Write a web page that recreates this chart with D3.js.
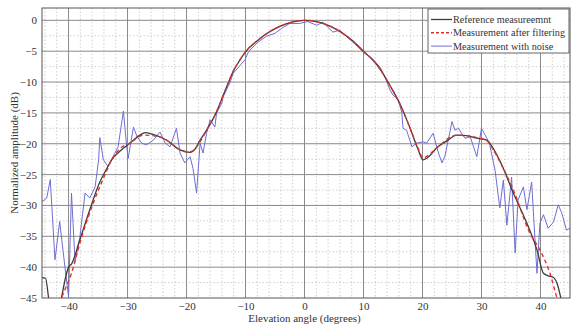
<!DOCTYPE html>
<html><head><meta charset="utf-8">
<script src="https://cdn.jsdelivr.net/npm/d3@7"></script>
<style>
html,body{margin:0;padding:0;background:#fff;}
text{font-family:"Liberation Serif","Times New Roman",serif;}
</style>
</head><body>
<svg id="chart" width="573" height="329"></svg>
<script>
// ---- data ----
const xTicks = [-40,-30,-20,-10,0,10,20,30,40];
const yTicks = [0,-5,-10,-15,-20,-25,-30,-35,-40,-45];
const seriesNames = ["Reference measureemnt","Measurement after filtering","Measurement with noise"];

const refAngle = [-44.5,-43.9,-43.3,-42.5,-41.5,-41.2,-40,-39.5,-38.1,-36.4,-34.7,-33.5,-32.7,-31.4,-29.6,-27.9,-27,-25.7,-23.4,-21.1,-19.4,-18.5,-17.7,-16.6,-15,-13.8,-13,-12,-11,-10,-8,-6,-4,-2,0,2,4,6,8,10,12,12.8,14.5,16.2,17.9,19.2,20.1,20.8,22.6,24.2,25.8,27.5,29.2,30.9,32,33.7,35.4,37.7,39.4,40.5,41.3,42.1,42.8,43.6,44.5];
const refValue = [-41.7,-41.8,-45.5,-48,-46.5,-45,-40,-39.5,-35.6,-30.7,-26.2,-24,-22.6,-21.3,-19.9,-18.6,-18.2,-18.5,-19.4,-21,-21.4,-20.8,-19.4,-17.8,-15.0,-12.2,-10.3,-8.1,-6.5,-5.1,-3.3,-1.9,-0.9,-0.25,0,-0.2,-0.8,-1.8,-3.2,-5.0,-6.9,-7.9,-10.6,-13.6,-17.5,-20.8,-22.6,-22.3,-20.5,-19.5,-18.6,-18.7,-19.1,-19.4,-20.8,-24,-28,-32.9,-37.2,-41,-41.4,-41.6,-42.6,-45.5,-48];

const filtAngle = [-42.3,-41.2,-39.5,-37.8,-35.8,-33.5,-33,-31.4,-29.6,-27.3,-24.5,-22.5,-21.1,-19.4,-17.7,-16.6,-15,-13.8,-13,-12,-11,-10,-8,-6,-4,-2,0,2,4,6,8,10,12,12.8,14.5,16.2,17.9,19.2,20.1,20.8,22.6,25.8,29.2,30.9,32,33.7,35.4,38.2,39.9,41.6,42.8,43.5];
const filtValue = [-48,-45,-41,-35.2,-29.6,-24.3,-23.2,-20.9,-19.9,-18.6,-18.9,-20.0,-21,-21.3,-19.7,-17.8,-15.0,-12.2,-10.3,-8.1,-6.5,-5.1,-3.3,-1.9,-0.9,-0.25,0,-0.2,-0.8,-1.8,-3.2,-5.0,-6.9,-7.9,-10.6,-13.6,-17.5,-20.6,-22.3,-22.0,-20.5,-18.6,-19.0,-19.5,-21,-24,-27.5,-34.5,-37.2,-41,-45,-47];

const noiseAngle = [-44.5,-43.7,-43.1,-42.3,-41.5,-40.6,-40,-39.5,-38.9,-38.1,-37.2,-36.4,-35.5,-34.9,-34.7,-34.1,-33.3,-31.6,-30.7,-30.2,-29.9,-29,-28.4,-27.6,-26.8,-25.6,-24.5,-23.6,-22.8,-21.7,-21.1,-20.3,-19.4,-18.9,-18.3,-17.7,-17.2,-16.6,-16,-15.2,-14.9,-14,-13.8,-12.6,-12.1,-10.1,-9.5,-8,-6.5,-5,-3.9,-2.5,-0.8,0.5,2.1,3.1,4.8,6,7.2,8.5,10,11.5,12.8,13.6,14.5,15,15.9,16.5,16.7,17.3,18.2,19,20.1,20.7,21.8,22.7,23.3,23.8,25,25.5,26.1,26.6,27.2,28.1,29.2,30,30.9,31.4,32.3,33.1,33.7,34.3,35.1,35.7,36.2,37.1,37.7,38.5,39.4,39.9,40.5,41.3,42.2,43,43.6,44.4,45];
const noiseValue = [-29.4,-28.8,-25.8,-38.8,-32.6,-40.1,-44.8,-28,-39.1,-35.3,-28,-28.8,-27,-22.6,-19,-22.6,-23.7,-20.5,-14.7,-19.9,-22.4,-17.3,-18.8,-19.9,-20.2,-19.4,-18.1,-19.9,-20.5,-17.5,-21.5,-23.1,-22.1,-24,-28,-19.9,-21.5,-18.3,-16.1,-17.3,-15,-13.4,-12.4,-10,-8.6,-6.4,-5.1,-3.6,-2.6,-2.1,-1.3,-0.5,-0.5,-0.2,-0.8,-0.3,-1.9,-1.6,-2.7,-3.8,-5.2,-6.2,-7.6,-9.1,-11.3,-12.1,-12.9,-15,-17.5,-17.8,-20.5,-19.9,-19.7,-19.9,-18.3,-21.5,-23.1,-22,-16.4,-17.8,-17.5,-18.3,-19.1,-18.9,-22.1,-17.5,-19.1,-20.2,-24.3,-30.4,-25.9,-33.2,-25.4,-37.7,-29.1,-27,-30.7,-26.2,-41,-32.9,-31.5,-33.7,-32.7,-29.9,-31.2,-34,-33.7];

// ---- layout ----
const svg = d3.select("#chart");
const L = 42, R = 570, T = 8, B = 298;
const x = d3.scaleLinear().domain([-44.5, 45]).range([L, R]);
const y = d3.scaleLinear().domain([-45, 2]).range([B, T]);

svg.append("rect").attr("x",0).attr("y",0).attr("width",573).attr("height",329).attr("fill","#fff");

// minor grid
const xMinor = d3.range(-44, 45, 2).filter(v => v % 10 !== 0);
const yMinor = d3.range(-42.5, 2, 5);
const g = svg.append("g");
g.selectAll(".xm").data(xMinor).join("line")
  .attr("x1", d => x(d)).attr("x2", d => x(d)).attr("y1", T).attr("y2", B)
  .attr("stroke", "#c4c4c4").attr("stroke-width", 0.8).attr("stroke-dasharray", "1.5,2");
g.selectAll(".ym").data(yMinor).join("line")
  .attr("y1", d => y(d)).attr("y2", d => y(d)).attr("x1", L).attr("x2", R)
  .attr("stroke", "#c4c4c4").attr("stroke-width", 0.8).attr("stroke-dasharray", "1.5,2");
// major grid
g.selectAll(".xM").data(xTicks).join("line")
  .attr("x1", d => x(d)).attr("x2", d => x(d)).attr("y1", T).attr("y2", B)
  .attr("stroke", "#8a8a8a").attr("stroke-width", 1);
g.selectAll(".yM").data(yTicks.filter(v => v > -45)).join("line")
  .attr("y1", d => y(d)).attr("y2", d => y(d)).attr("x1", L).attr("x2", R)
  .attr("stroke", "#8a8a8a").attr("stroke-width", 1);

// axes labels via d3 axes
const xAxis = d3.axisBottom(x).tickValues(xTicks).tickSize(0).tickPadding(4);
const yAxis = d3.axisLeft(y).tickValues(yTicks).tickSize(0).tickPadding(5);
const gx = svg.append("g").attr("transform", `translate(0,${B})`).call(xAxis);
const gy = svg.append("g").attr("transform", `translate(${L},0)`).call(yAxis);
[gx, gy].forEach(a => {
  a.select(".domain").remove();
  a.selectAll("text").attr("font-family", "Liberation Serif, serif").attr("font-size", 11).attr("fill", "#333");
});

// clip
svg.append("clipPath").attr("id", "clip").append("rect")
  .attr("x", L).attr("y", T).attr("width", R - L).attr("height", B - T);

const smooth = d3.line().x(d => x(d[0])).y(d => y(d[1])).curve(d3.curveMonotoneX);
const line = d3.line().x(d => x(d[0])).y(d => y(d[1]));
const plot = svg.append("g").attr("clip-path", "url(#clip)");
const zip = (a, b) => a.map((v, i) => [v, b[i]]);

plot.append("path").datum(zip(noiseAngle, noiseValue)).attr("d", line)
  .attr("fill", "none").attr("stroke", "#6e6ed2").attr("stroke-width", 1);
plot.append("path").datum(zip(refAngle, refValue)).attr("d", smooth)
  .attr("fill", "none").attr("stroke", "#3c3c3c").attr("stroke-width", 1.3);
plot.append("path").datum(zip(filtAngle, filtValue)).attr("d", smooth)
  .attr("fill", "none").attr("stroke", "#e0302e").attr("stroke-width", 1.4).attr("stroke-dasharray", "4,3");

// frame
svg.append("rect").attr("x", L).attr("y", T).attr("width", R - L).attr("height", B - T)
  .attr("fill", "none").attr("stroke", "#555").attr("stroke-width", 1);

// axis titles
svg.append("text").attr("x", x(0)).attr("y", 322).attr("text-anchor", "middle")
  .attr("font-size", 11).attr("fill", "#333").text("Elevation angle (degrees)");
svg.append("text").attr("transform", `translate(18,${(T + B) / 2}) rotate(-90)`)
  .attr("text-anchor", "middle").attr("font-size", 11).attr("fill", "#333")
  .text("Normalized amplitude (dB)");

// legend
const lg = svg.append("g");
lg.append("rect").attr("x", 428).attr("y", 9).attr("width", 141).attr("height", 44)
  .attr("fill", "#fff").attr("stroke", "#666").attr("stroke-width", 1);
const styles = [
  {c: "#3c3c3c", d: null, w: 1.3},
  {c: "#e0302e", d: "3,2", w: 1.4},
  {c: "#6e6ed2", d: null, w: 1}
];
seriesNames.forEach((n, i) => {
  const yy = 19.5 + i * 13.3;
  lg.append("line").attr("x1", 431).attr("x2", 452).attr("y1", yy).attr("y2", yy)
    .attr("stroke", styles[i].c).attr("stroke-width", styles[i].w)
    .attr("stroke-dasharray", styles[i].d);
  lg.append("text").attr("x", 453).attr("y", yy).attr("dy", "0.35em")
    .attr("font-size", 10.2).attr("fill", "#333").text(n);
});
</script>
</body></html>
